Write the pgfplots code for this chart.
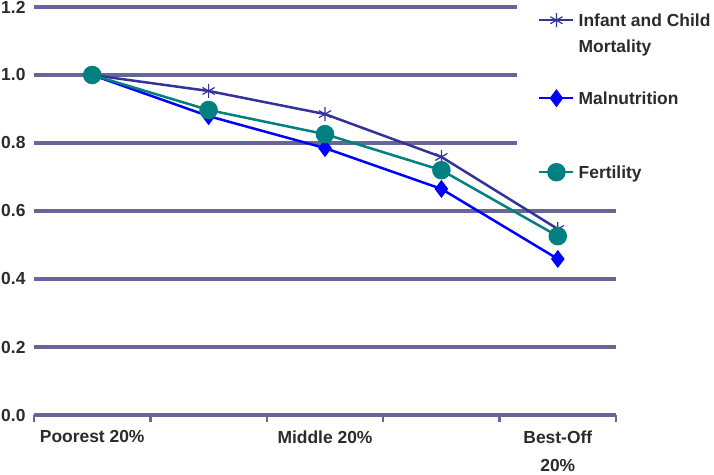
\documentclass[border=0pt]{standalone}
\usepackage{fontspec}
\setmainfont{Liberation Sans}
\usepackage{pgfplots}
\pgfplotsset{compat=1.18}
\definecolor{gridc}{HTML}{666699}
\definecolor{infc}{HTML}{333399}
\definecolor{malc}{HTML}{0000FF}
\definecolor{fertc}{HTML}{008080}
\definecolor{txt}{HTML}{2B2B2B}
\newcommand\lf{\fontsize{17.5}{28}\selectfont\bfseries}
\newcommand\ent[2]{\raisebox{0pt}[\dimexpr6bp+#1\relax][\dimexpr#1-6bp\relax]{#2}}
\begin{document}
\begin{tikzpicture}
\useasboundingbox (0,0) rectangle (714bp,475bp);
\begin{axis}[
  at={(34bp,60bp)}, anchor=south west,
  scale only axis, width=582bp, height=408bp,
  xmin=-0.5, xmax=4.5, ymin=0, ymax=1.2,
  axis x line*=bottom, axis y line*=left,
  x axis line style={draw=gridc, line width=3bp, -},
  y axis line style={draw=none, -},
  /pgf/number format/assume math mode=true,
  ytick={0,0.2,0.4,0.6,0.8,1.0,1.2},
  yticklabel style={/pgf/number format/fixed, /pgf/number format/fixed zerofill, /pgf/number format/precision=1, xshift=-5bp},
  xtick={0,2,4},
  xticklabels={Poorest 20\%, Middle 20\%, {Best-Off\\20\%}},
  xticklabel style={align=center, yshift=-12bp},
  minor xtick={-0.5,0.5,1.5,2.5,3.5,4.5},
  tick align=outside,
  major tick length=0pt,
  minor tick length=7bp,
  every minor tick/.append style={draw=gridc, line width=2.5bp},
  tick label style={font=\lf, text=txt},
  ymajorgrids,
  grid style={draw=gridc, line width=3.5bp},
  clip=false,
  legend image code/.code={\draw[mark repeat=2, mark phase=2] plot coordinates {(0bp,0bp) (17bp,0bp) (34bp,0bp)};},
  legend cell align=left,
  legend style={at={(axis description cs:0.8299,1.022)}, anchor=north west,
    fill=white, draw=none, inner xsep=21bp, inner ysep=2bp,
    row sep=0pt, column sep=4bp,
    nodes={inner sep=0pt, text depth=, text height=, font=\lf, text=txt}},
]
\addplot[infc, line width=2.5bp, mark=asterisk, mark size=7bp, mark options={line width=1.2bp}]
  coordinates {(0,1.0) (1,0.953) (2,0.885) (3,0.759) (4,0.547)};
\addlegendentry{\ent{20bp}{Infant and Child}}
\addlegendimage{empty legend}
\addlegendentry{\ent{6bp}{Mortality}}
\addplot[malc, line width=2.5bp, mark=diamond*, mark size=7bp, mark options={fill=malc}]
  coordinates {(0,1.0) (1,0.879) (2,0.785) (3,0.665) (4,0.459)};
\addlegendentry{\ent{46bp}{Malnutrition}}
\addplot[fertc, line width=2.5bp, mark=*, mark size=8bp, mark options={fill=fertc}]
  coordinates {(0,1.0) (1,0.897) (2,0.826) (3,0.720) (4,0.526)};
\addlegendentry{\ent{28bp}{Fertility}}
\end{axis}
\end{tikzpicture}
\end{document}
